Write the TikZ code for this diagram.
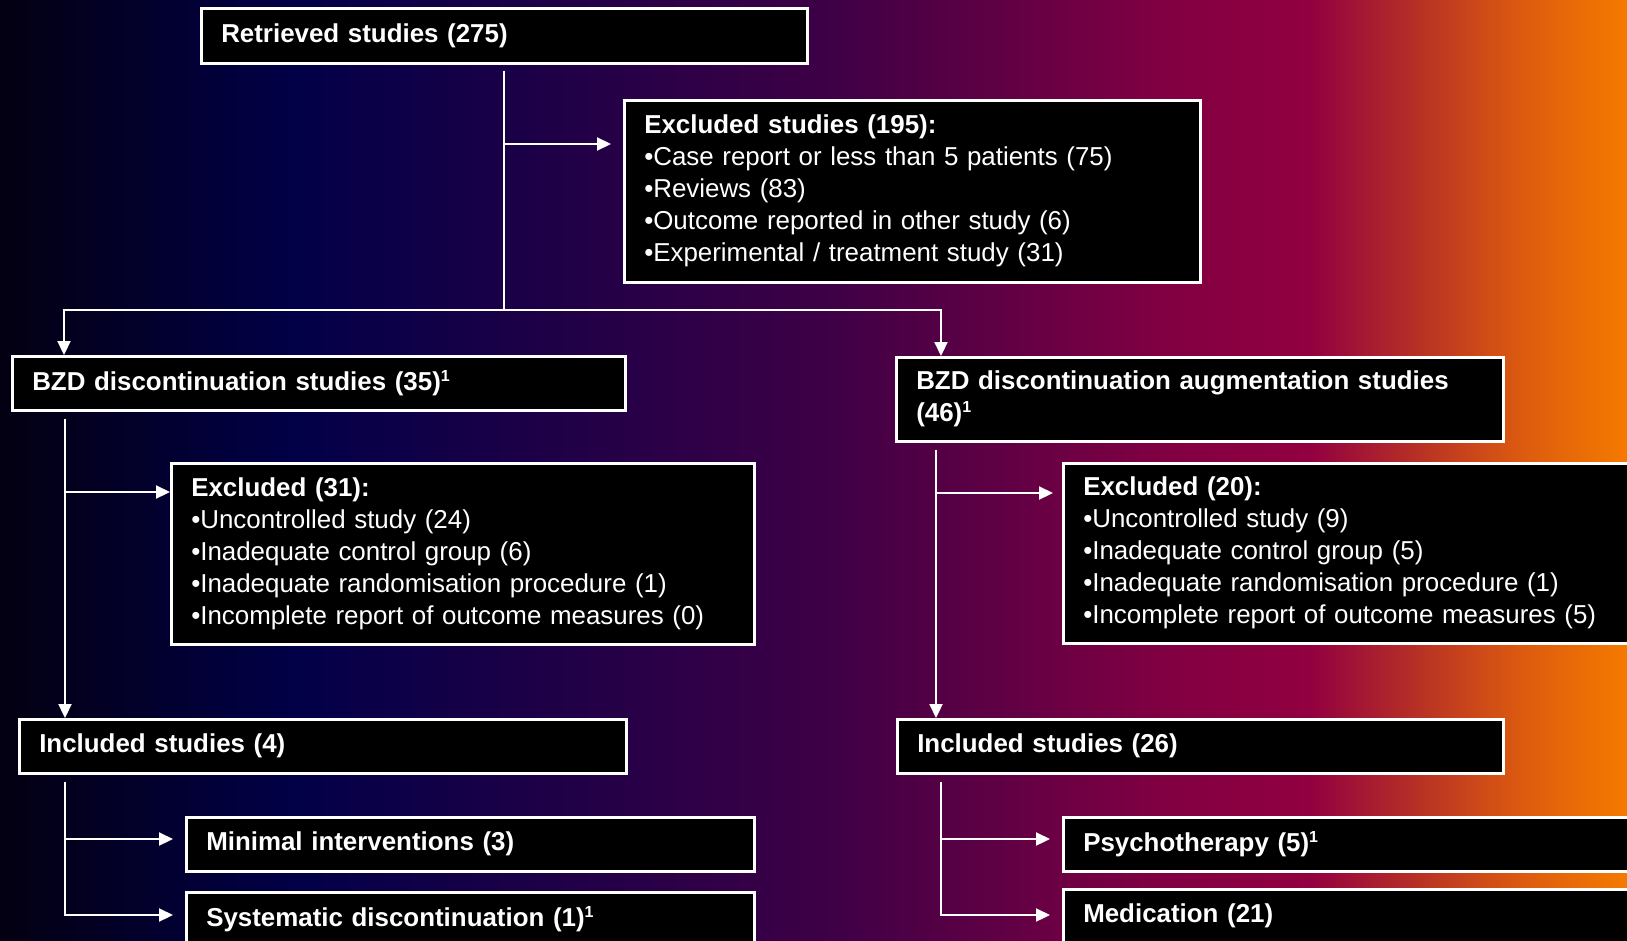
\documentclass[tikz,border=0pt]{standalone}
\usepackage{fontspec}
\setmainfont{Liberation Sans}
\usetikzlibrary{arrows.meta}
\definecolor{g0}{HTML}{030012}
\definecolor{g1}{HTML}{020048}
\definecolor{g2}{HTML}{3E0046}
\definecolor{g3}{HTML}{800042}
\definecolor{g4}{HTML}{920040}
\definecolor{g5}{HTML}{B83224}
\definecolor{g6}{HTML}{DC5A10}
\definecolor{g7}{HTML}{F57A00}
\newcommand{\supone}{\raisebox{9pt}{\fontsize{16}{16}\selectfont\bfseries 1}}
\begin{document}
\begin{tikzpicture}[x=1pt,y=-1pt,
  box/.style={draw=white, line width=2.5pt, fill=black, text=white, rectangle, anchor=north west,
    inner xsep=20pt, inner ysep=0pt, align=left, font=\fontsize{25.9}{32}\selectfont},
  conn/.style={draw=white, line width=2.2pt},
  arr/.style={conn, -{Triangle[length=14pt,width=13pt]}}]
\useasboundingbox (0,0) rectangle (1627,940);
\clip (0,0) rectangle (1627,940);
% background gradient
\shade[left color=g0,right color=g1] (0,0) rectangle (301,940);
\shade[left color=g1,right color=g2] (300,0) rectangle (831,940);
\shade[left color=g2,right color=g3] (830,0) rectangle (1161,940);
\shade[left color=g3,right color=g4] (1160,0) rectangle (1311,940);
\shade[left color=g4,right color=g5] (1310,0) rectangle (1421,940);
\shade[left color=g5,right color=g6] (1420,0) rectangle (1521,940);
\shade[left color=g6,right color=g7] (1520,0) rectangle (1627,940);
% boxes
\node[box, text width=566pt, minimum height=55pt] (ret) at (200,7) {\textbf{Retrieved studies (275)}};
\node[box, text width=536pt, minimum height=182pt] (exc) at (623,99) {\textbf{Excluded studies (195):}\\•Case report or less than 5 patients (75)\\•Reviews (83)\\•Outcome reported in other study (6)\\•Experimental / treatment study (31)};
\node[box, text width=573pt, minimum height=54pt] (bzd) at (11,355) {\textbf{BZD discontinuation studies (35)\supone}};
\node[box, text width=567pt, minimum height=84pt] (aug) at (895,356) {\bfseries BZD discontinuation augmentation studies\\(46)\supone};
\node[box, text width=543pt, minimum height=181pt] (ex31) at (170,462) {\textbf{Excluded (31):}\\•Uncontrolled study (24)\\•Inadequate control group (6)\\•Inadequate randomisation procedure (1)\\•Incomplete report of outcome measures (0)};
\node[box, text width=543pt, minimum height=180pt] (ex20) at (1062,462) {\textbf{Excluded (20):}\\•Uncontrolled study (9)\\•Inadequate control group (5)\\•Inadequate randomisation procedure (1)\\•Incomplete report of outcome measures (5)};
\node[box, text width=567pt, minimum height=54pt] (inc4) at (18,718) {\textbf{Included studies (4)}};
\node[box, text width=566pt, minimum height=54pt] (inc26) at (896,718) {\textbf{Included studies (26)}};
\node[box, text width=528pt, minimum height=54pt] (min) at (185,816) {\textbf{Minimal interventions (3)}};
\node[box, text width=528pt, minimum height=54pt] (sys) at (185,891) {\textbf{Systematic discontinuation (1)\supone}};
\node[box, text width=528pt, minimum height=54pt] (psy) at (1062,816) {\textbf{Psychotherapy (5)\supone}};
\node[box, text width=528pt, minimum height=54pt] (med) at (1062,888) {\textbf{Medication (21)}};
% connectors
\coordinate (hL) at (64,310);
\coordinate (hR) at (941,310);
\coordinate (jx) at (503,144);
\draw[conn, shorten <=6pt] (ret.south) -- (ret.south |- hL);
\draw[arr, shorten >=12pt] (ret.south |- jx) -- (jx -| exc.west);
\draw[arr] (hR) -- (hL) -- (hL |- bzd.north);
\draw[arr] (hL) -- (hR) -- (hR |- aug.north);
\coordinate (bL) at (65,492);
\draw[arr, shorten <=7pt] (bL |- bzd.south) -- (bL |- inc4.north);
\draw[arr] (bL) -- (bL -| ex31.west);
\coordinate (aR) at (936,493);
\draw[arr, shorten <=7pt] (aR |- aug.south) -- (aR |- inc26.north);
\draw[arr, shorten >=9pt] (aR) -- (aR -| ex20.west);
\coordinate (iL) at (65,915);
\coordinate (m1) at (65,839);
\draw[arr, shorten <=7pt, shorten >=12pt] (iL |- inc4.south) -- (iL) -- (iL -| sys.west);
\draw[arr, shorten >=12pt] (m1) -- (m1 -| min.west);
\coordinate (iR) at (941,915);
\coordinate (m2) at (941,839);
\draw[arr, shorten <=7pt, shorten >=12pt] (iR |- inc26.south) -- (iR) -- (iR -| med.west);
\draw[arr, shorten >=12pt] (m2) -- (m2 -| psy.west);
\end{tikzpicture}
\end{document}
